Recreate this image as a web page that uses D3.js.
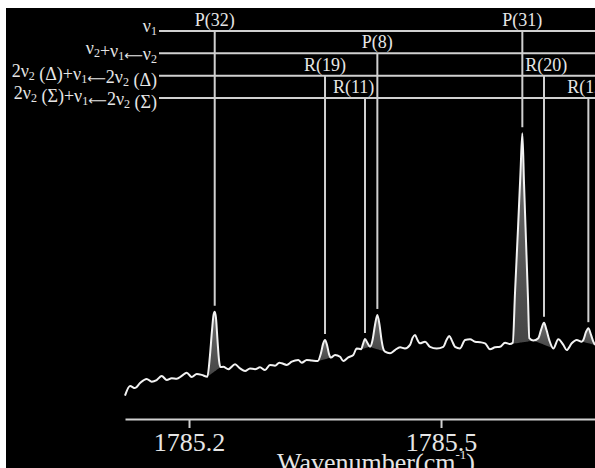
<!DOCTYPE html>
<html>
<head>
<meta charset="utf-8">
<script src="https://cdn.jsdelivr.net/npm/d3@7"></script>
<style>
  body { margin: 0; background: #fff; }
  svg { display: block; }
  text { font-family: "Liberation Serif", "Times New Roman", serif; fill: #e6e6e6; }
</style>
</head>
<body>
<div id="chart"></div>
<script>
// spectrum (wavenumber in cm-1, intensity in arbitrary units)
var wavenumber = [
  1785.1238, 1785.1298, 1785.1357, 1785.1417, 1785.1496, 1785.1556, 1785.1615, 1785.1675,
  1785.1735, 1785.1794, 1785.1854, 1785.1913, 1785.1973, 1785.2032, 1785.2092, 1785.2151,
  1785.2218, 1785.2250, 1785.2274, 1785.2292, 1785.2306, 1785.2321, 1785.2339, 1785.2357,
  1785.2375, 1785.2408, 1785.2468, 1785.2548, 1785.2607, 1785.2667, 1785.2726, 1785.2786,
  1785.2845, 1785.2905, 1785.2964, 1785.3024, 1785.3075, 1785.3104, 1785.3163, 1785.3223,
  1785.3301, 1785.3342, 1785.3401, 1785.3461, 1785.3532, 1785.3571, 1785.3595, 1785.3619,
  1785.3643, 1785.3667, 1785.3690, 1785.3738, 1785.3798, 1785.3837, 1785.3896, 1785.3956,
  1785.3996, 1785.4048, 1785.4071, 1785.4095, 1785.4125, 1785.4155, 1785.4185, 1785.4214,
  1785.4242, 1785.4268, 1785.4292, 1785.4310, 1785.4333, 1785.4393, 1785.4452, 1785.4512,
  1785.4571, 1785.4631, 1785.4661, 1785.4690, 1785.4720, 1785.4750, 1785.4810, 1785.4869,
  1785.4949, 1785.5027, 1785.5065, 1785.5099, 1785.5131, 1785.5167, 1785.5226, 1785.5286,
  1785.5345, 1785.5405, 1785.5464, 1785.5524, 1785.5583, 1785.5643, 1785.5702, 1785.5762,
  1785.5821, 1785.5854, 1785.5881, 1785.5917, 1785.5946, 1785.5968, 1785.5988, 1785.6012,
  1785.6036, 1785.6051, 1785.6099, 1785.6158, 1785.6190, 1785.6226, 1785.6256, 1785.6289,
  1785.6337, 1785.6396, 1785.6456, 1785.6496, 1785.6556, 1785.6615, 1785.6675, 1785.6694,
  1785.6726, 1785.6754, 1785.6786, 1785.6813, 1785.6833
];
var intensity = [
  0.016, 0.052, 0.044, 0.063, 0.078, 0.068, 0.074, 0.089,
  0.074, 0.081, 0.079, 0.089, 0.101, 0.085, 0.096, 0.093,
  0.086, 0.167, 0.259, 0.315, 0.327, 0.304, 0.222, 0.148,
  0.122, 0.123, 0.114, 0.132, 0.117, 0.107, 0.117, 0.114,
  0.121, 0.111, 0.130, 0.127, 0.138, 0.136, 0.130, 0.142,
  0.148, 0.138, 0.148, 0.146, 0.144, 0.174, 0.207, 0.222,
  0.204, 0.170, 0.157, 0.167, 0.160, 0.144, 0.158, 0.167,
  0.191, 0.188, 0.207, 0.226, 0.211, 0.197, 0.222, 0.278,
  0.315, 0.278, 0.222, 0.193, 0.179, 0.173, 0.185, 0.195,
  0.191, 0.204, 0.230, 0.241, 0.222, 0.210, 0.216, 0.197,
  0.191, 0.197, 0.222, 0.237, 0.219, 0.197, 0.191, 0.222,
  0.225, 0.216, 0.214, 0.210, 0.188, 0.195, 0.197, 0.212,
  0.207, 0.212, 0.398, 0.640, 0.842, 0.988, 0.803, 0.586,
  0.370, 0.229, 0.220, 0.229, 0.259, 0.286, 0.259, 0.222,
  0.191, 0.225, 0.204, 0.185, 0.210, 0.222, 0.216, 0.222,
  0.252, 0.266, 0.241, 0.216, 0.204
];

// vibrational bands ("_" marks a subscript digit)
var bandNames = ["ν_1", "ν_2+ν_1⟵ν_2", "2ν_2 (Δ)+ν_1⟵2ν_2 (Δ)", "2ν_2 (Σ)+ν_1⟵2ν_2 (Σ)"];

// line assignments
var lineLabels = ["P(32)", "R(19)", "R(11)", "P(8)", "P(31)", "R(20)", "R(12)"];
var lineBand = [0, 2, 3, 1, 0, 2, 3];
var linePosition = [1785.2306, 1785.3619, 1785.4095, 1785.4242, 1785.5968, 1785.6226, 1785.6754];

var tickValues = [1785.2, 1785.5];

var W = 595, H = 468;
var data = wavenumber.map(function(w, i) { return { w: w, v: intensity[i] }; });

var svg = d3.select("#chart").append("svg")
    .attr("width", W)
    .attr("height", H);

svg.append("rect")
    .attr("x", 6).attr("y", 8)
    .attr("width", W - 6).attr("height", H - 8)
    .attr("fill", "#000");

var x = d3.scaleLinear()
    .domain(d3.extent(wavenumber))
    .range([125, 595]);

var y = d3.scaleLinear()
    .domain([0, 1])
    .range([400, 130]);

var band = d3.scalePoint()
    .domain(d3.range(bandNames.length))
    .range([31, 98]);

// gradient for the peak fills
var grad = svg.append("defs").append("linearGradient")
    .attr("id", "peak-fill")
    .attr("x1", 0).attr("y1", 0).attr("x2", 0).attr("y2", 1);
grad.append("stop").attr("offset", "0%").attr("stop-color", "#6e6e6e");
grad.append("stop").attr("offset", "100%").attr("stop-color", "#454545");

// index of the sample closest to a wavenumber
function nearest(w) {
  var best = 0;
  data.forEach(function(d, i) {
    if (Math.abs(d.w - w) < Math.abs(data[best].w - w)) best = i;
  });
  return best;
}

// peak fills: walk down both flanks to the local minima
linePosition.forEach(function(p) {
  var c = nearest(p), a = c, b = c;
  while (a > 0 && data[a - 1].v < data[a].v) a--;
  while (b < data.length - 1 && data[b + 1].v < data[b].v) b++;
  var seg = data.slice(a, b + 1);
  var d0 = seg[0], d1 = seg[seg.length - 1];
  var base = function(d) {
    return d0.v + (d1.v - d0.v) * (d.w - d0.w) / (d1.w - d0.w);
  };
  svg.append("path")
      .datum(seg)
      .attr("fill", "url(#peak-fill)")
      .attr("d", d3.area()
          .curve(d3.curveMonotoneX)
          .x(function(d) { return x(d.w); })
          .y0(function(d) { return y(base(d)); })
          .y1(function(d) { return y(d.v); }));
});

// spectrum
svg.append("path")
    .datum(data)
    .attr("fill", "none")
    .attr("stroke", "#f2f2f2")
    .attr("stroke-width", 2)
    .attr("stroke-linejoin", "round")
    .attr("d", d3.line()
        .curve(d3.curveMonotoneX)
        .x(function(d) { return x(d.w); })
        .y(function(d) { return y(d.v); }));

// band labels with subscripts and a long arrow glyph
function writeLabel(sel, s) {
  s.split(/(_\d|⟵)/).forEach(function(part) {
    if (!part) return;
    if (part[0] === "_") {
      sel.append("tspan").attr("font-size", "12px").attr("dy", 3).text(part.slice(1));
      sel.append("tspan").attr("dy", -3).text("");
    } else if (part === "⟵") {
      sel.append("tspan")
          .attr("font-family", "DejaVu Sans, sans-serif")
          .attr("font-size", "13px")
          .text(part);
    } else {
      sel.append("tspan").text(part);
    }
  });
}

bandNames.forEach(function(name, i) {
  var t = svg.append("text")
      .attr("x", 157)
      .attr("y", band(i) + 1)
      .attr("text-anchor", "end")
      .attr("font-size", "18px");
  writeLabel(t, name);
  svg.append("line")
      .attr("x1", 159).attr("x2", W)
      .attr("y1", band(i)).attr("y2", band(i))
      .attr("stroke", "#d0d0d0")
      .attr("stroke-width", 2);
});

// assignment sticks and labels
linePosition.forEach(function(p, i) {
  var c = nearest(p);
  svg.append("line")
      .attr("x1", x(p)).attr("x2", x(p))
      .attr("y1", band(lineBand[i]))
      .attr("y2", y(data[c].v) - 6)
      .attr("stroke", "#d0d0d0")
      .attr("stroke-width", 2);
});

linePosition.forEach(function(p, i) {
  var t = svg.append("text")
      .attr("x", x(p))
      .attr("y", band(lineBand[i]) - 5)
      .attr("text-anchor", "middle")
      .attr("font-size", "18px")
      .text(lineLabels[i]);
  // move the label off any stick from a band above it
  var bb = t.node().getBBox();
  linePosition.forEach(function(q, j) {
    if (lineBand[j] >= lineBand[i]) return;
    var lx = x(q);
    if (lx > bb.x - 2 && lx < bb.x + bb.width + 2) {
      var shift = lx > x(p) ? (lx - 3) - (bb.x + bb.width) : (lx + 3) - bb.x;
      t.attr("x", x(p) + shift);
    }
  });
});

// x axis
var axis = svg.append("g")
    .attr("transform", "translate(0,419)")
    .call(d3.axisBottom(x)
        .tickValues(tickValues)
        .tickSize(9)
        .tickSizeOuter(0)
        .tickPadding(5)
        .tickFormat(d3.format(".1f")));
axis.selectAll("path, line").attr("stroke", "#d0d0d0").attr("stroke-width", 2);
axis.selectAll("text")
    .attr("font-family", "Liberation Serif, Times New Roman, serif")
    .attr("font-size", "26px")
    .attr("fill", "#e6e6e6");

var title = svg.append("text")
    .attr("x", 376)
    .attr("y", 471)
    .attr("text-anchor", "middle")
    .attr("font-size", "26px");
title.append("tspan").text("Wavenumber(cm");
title.append("tspan").attr("font-size", "13px").attr("dy", -12).text("-1");
title.append("tspan").attr("dy", 12).text(")");
</script>
</body>
</html>
